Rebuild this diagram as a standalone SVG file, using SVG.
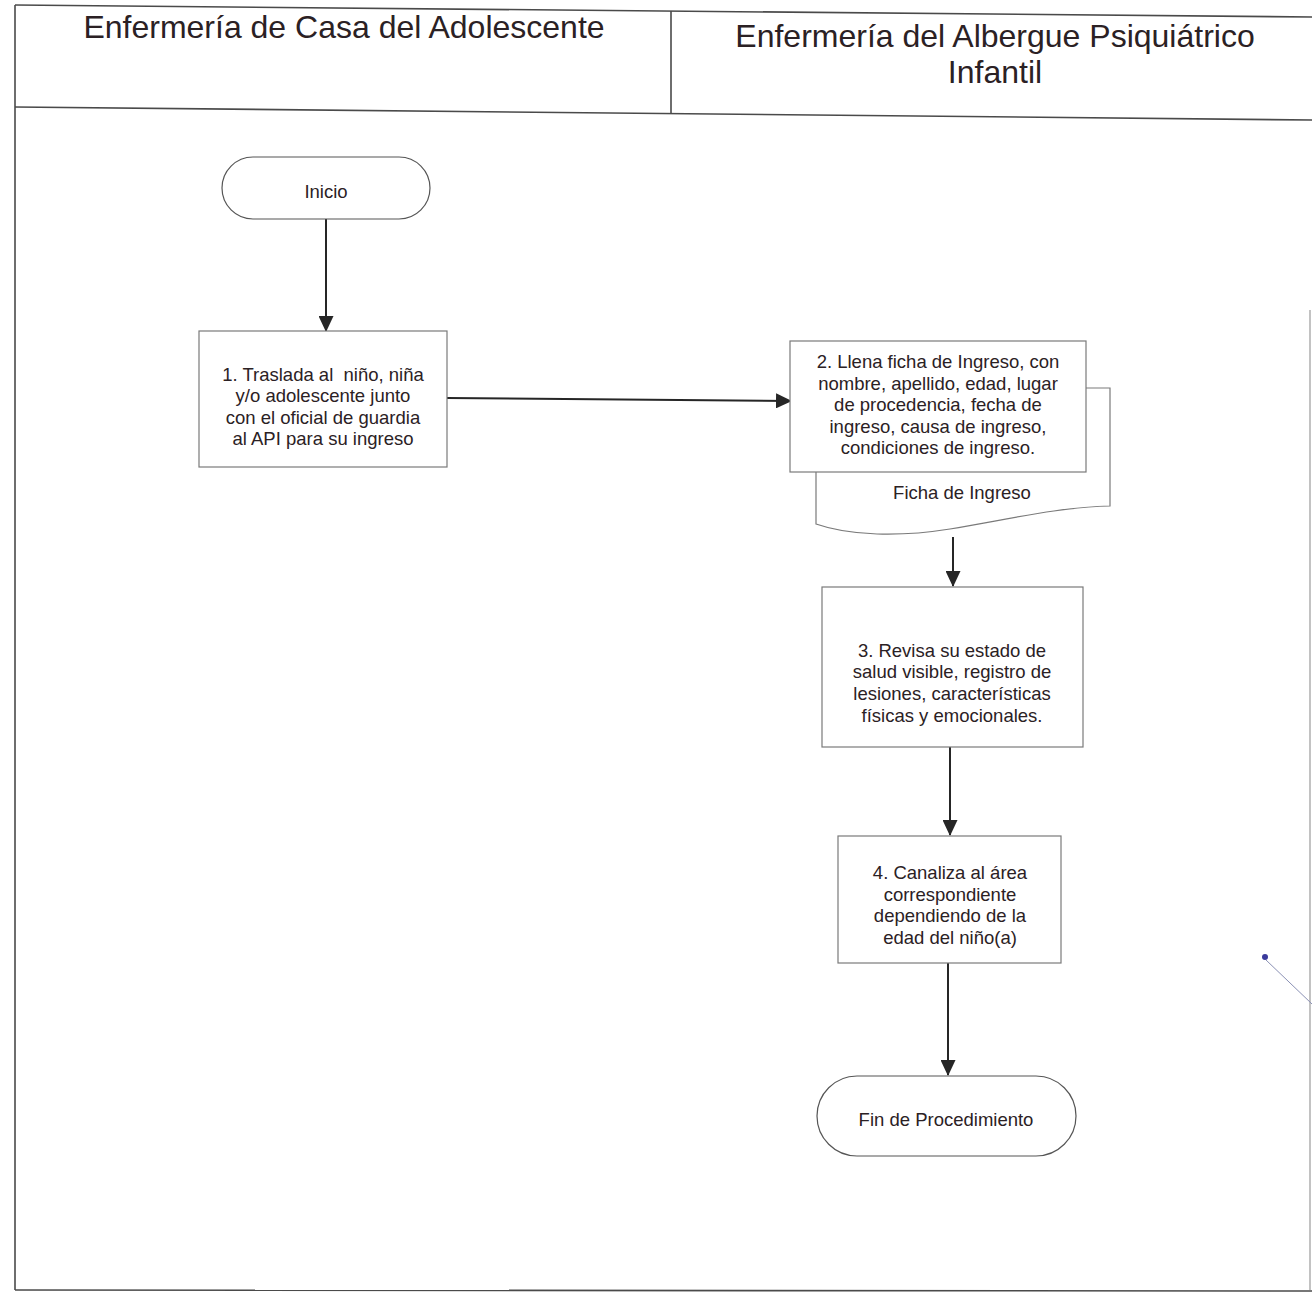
<svg xmlns="http://www.w3.org/2000/svg" width="1312" height="1295" viewBox="0 0 1312 1295">
  <style>
    .frame { fill: none; stroke: #4a4a4a; stroke-width: 1.6; }
    .frame-light { fill: none; stroke: #9a9a9a; stroke-width: 1.2; }
    .box { fill: #ffffff; stroke: #7a7a7a; stroke-width: 1.2; }
    .pill { fill: #ffffff; stroke: #555555; stroke-width: 1.2; }
    .conn { fill: none; stroke: #262626; stroke-width: 2; }
    .title { font-family: "Liberation Sans", Arial, sans-serif; font-size: 32px; fill: #2b2124; text-anchor: middle; }
    .label { font-family: "Liberation Sans", Arial, sans-serif; font-size: 18.5px; fill: #2b2124; text-anchor: middle; white-space: pre; }
  </style>
  <defs>
    <marker id="arrow" markerUnits="userSpaceOnUse" markerWidth="16" markerHeight="15" refX="15" refY="7.5" orient="auto">
      <path d="M0,0 L16,7.5 L0,15 Z" fill="#262626"/>
    </marker>
  </defs>

  <rect x="0" y="0" width="1312" height="1295" fill="#ffffff"/>

  <!-- swimlane frame -->
  <g id="lanes">
    <line class="frame" x1="15" y1="5" x2="1312" y2="17"/>
    <line class="frame" x1="15" y1="107" x2="1312" y2="120"/>
    <line class="frame" x1="15" y1="5" x2="15" y2="1290"/>
    <line class="frame" x1="671" y1="11" x2="671" y2="114"/>
    <line class="frame" x1="15" y1="1290" x2="1312" y2="1291"/>
    <line class="frame-light" x1="1310" y1="310" x2="1310" y2="1290"/>
    <text class="title" x="344" y="38">Enfermería de Casa del Adolescente</text>
    <text class="title" x="995" y="47">Enfermería del Albergue Psiquiátrico</text>
    <text class="title" x="995" y="83">Infantil</text>
  </g>

  <!-- connectors -->
  <g id="connectors">
    <line class="conn" x1="326" y1="219" x2="326" y2="331" marker-end="url(#arrow)"/>
    <line class="conn" x1="447" y1="398" x2="791" y2="401" marker-end="url(#arrow)"/>
    <line class="conn" x1="953" y1="537" x2="953" y2="586" marker-end="url(#arrow)"/>
    <line class="conn" x1="950" y1="747" x2="950" y2="835" marker-end="url(#arrow)"/>
    <line class="conn" x1="948" y1="963" x2="948" y2="1075" marker-end="url(#arrow)"/>
  </g>

  <g id="inicio">
    <rect class="pill" x="222" y="157" width="208" height="62" rx="31" ry="31"/>
    <text class="label" x="326" y="198">Inicio</text>
  </g>

  <g id="paso1">
    <rect class="box" x="199" y="331" width="248" height="136"/>
    <text class="label" x="323" y="381" xml:space="preserve">1. Traslada al  niño, niña</text>
    <text class="label" x="323" y="402">y/o adolescente junto</text>
    <text class="label" x="323" y="424">con el oficial de guardia</text>
    <text class="label" x="323" y="445">al API para su ingreso</text>
  </g>

  <g id="ficha-ingreso">
    <path class="box" d="M816,388 H1110 V506 C1060,507 1010,519 950,529 C900,537 850,536 816,524 Z"/>
    <text class="label" x="962" y="499">Ficha de Ingreso</text>
  </g>

  <g id="paso2">
    <rect class="box" x="790" y="341" width="296" height="131"/>
    <text class="label" x="938" y="368">2. Llena ficha de Ingreso, con</text>
    <text class="label" x="938" y="390">nombre, apellido, edad, lugar</text>
    <text class="label" x="938" y="411">de procedencia, fecha de</text>
    <text class="label" x="938" y="433">ingreso, causa de ingreso,</text>
    <text class="label" x="938" y="454">condiciones de ingreso.</text>
  </g>

  <g id="paso3">
    <rect class="box" x="822" y="587" width="261" height="160"/>
    <text class="label" x="952" y="657">3. Revisa su estado de</text>
    <text class="label" x="952" y="678">salud visible, registro de</text>
    <text class="label" x="952" y="700">lesiones, características</text>
    <text class="label" x="952" y="722">físicas y emocionales.</text>
  </g>

  <g id="paso4">
    <rect class="box" x="838" y="836" width="223" height="127"/>
    <text class="label" x="950" y="879">4. Canaliza al área</text>
    <text class="label" x="950" y="901">correspondiente</text>
    <text class="label" x="950" y="922">dependiendo de la</text>
    <text class="label" x="950" y="944">edad del niño(a)</text>
  </g>

  <g id="fin">
    <rect class="pill" x="817" y="1076" width="259" height="80" rx="40" ry="40"/>
    <text class="label" x="946" y="1126">Fin de Procedimiento</text>
  </g>

  <!-- pen mark on the right margin -->
  <g id="pen-mark">
    <line x1="1266" y1="960" x2="1312" y2="1004" stroke="#8a90b4" stroke-width="1"/>
    <circle cx="1265" cy="957" r="3" fill="#3b3b9c"/>
  </g>
</svg>
